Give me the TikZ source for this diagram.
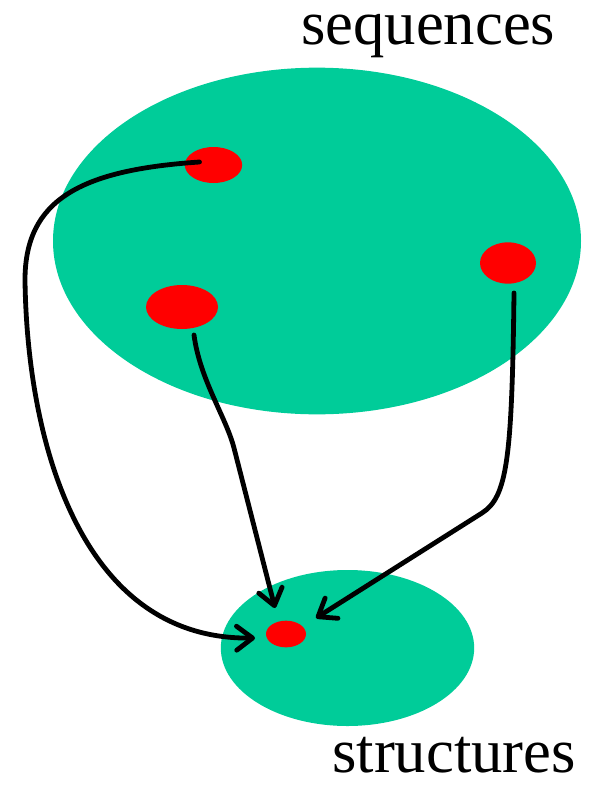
\documentclass[tikz,border=0pt]{standalone}
\usepackage{fontspec}
\setmainfont{Liberation Serif}
\usetikzlibrary{shapes.geometric,arrows.meta,calc}
\definecolor{sea}{HTML}{00CC99}
\definecolor{dotred}{HTML}{FF0000}
\begin{document}
\begin{tikzpicture}[x=0.75pt,y=-0.75pt,
  blob/.style={ellipse,fill=sea,draw=none,inner sep=0pt},
  spot/.style={ellipse,fill=dotred,draw=none,inner sep=0pt},
  link/.style={line width=3.6pt,line cap=round,line join=round,
    -{Straight Barb[length=12pt,width=18pt,round]}},
  lbl/.style={font=\fontsize{47}{50}\selectfont,inner sep=0pt,anchor=base west}]
\useasboundingbox (0,0) rectangle (590,785);
% regions
\node[blob,minimum width=396pt,minimum height=260pt] (seq) at (317,241) {};
\node[blob,minimum width=190pt,minimum height=117pt] (str) at (347.5,648) {};
% points
\node[spot,minimum width=43pt,minimum height=27pt] (d1) at (213.5,165) {};
\node[spot,minimum width=42pt,minimum height=31pt] (d2) at (508,263) {};
\node[spot,minimum width=54pt,minimum height=33pt] (d3) at (182,307) {};
\node[spot,minimum width=30pt,minimum height=20pt] (d4) at (286,634) {};
% labels
\node[lbl] (tseq) at (301,44) {sequences};
\node[lbl] (tstr) at (332,772) {structures};
% connectors
\draw[link] ($(d1.center)+(-14,-3)$) .. controls (80,170) and (25,200) .. (25,280)
  .. controls (27,440) and (80,640) .. ($(d4.center)+(-31,4)$);
\draw[link] ($(d3.center)+(12,28)$) .. controls (200,380) and (226,417) .. (234,448)
  -- ($(d4.center)+(-11,-26)$);
\draw[link] ($(d2.center)+(6,30)$) .. controls (512,460) and (507,497) .. (482,513)
  -- ($(d4.center)+(30,-16)$);
\end{tikzpicture}
\end{document}
